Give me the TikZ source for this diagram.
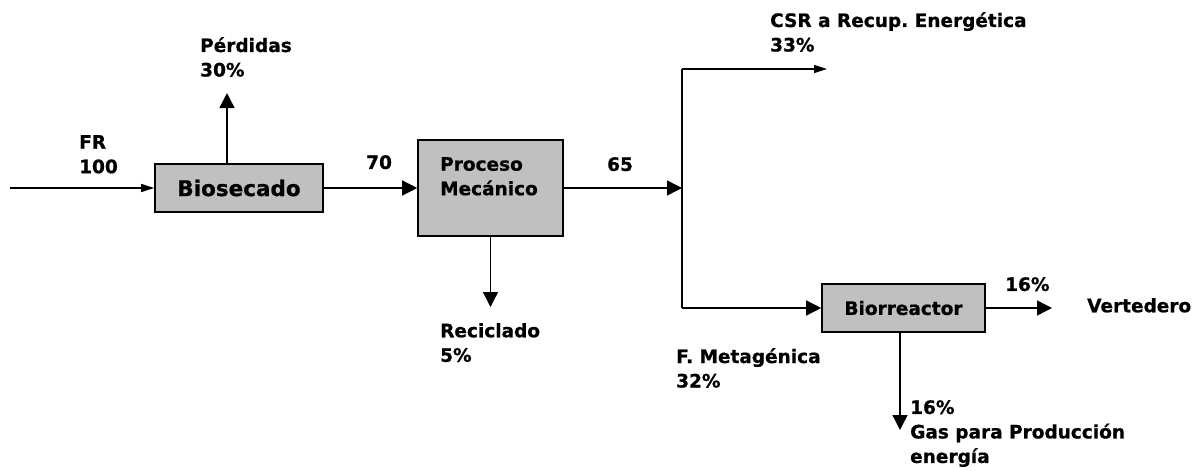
\documentclass[tikz,border=0pt]{standalone}
\usepackage{fontspec}
\setmainfont{DejaVu Sans}[BoldFeatures={FakeBold=0.8}]
\usetikzlibrary{arrows.meta,calc}
\definecolor{boxgray}{HTML}{C0C0C0}
\frenchspacing
\begin{document}
\begin{tikzpicture}[x=1pt,y=-1pt,
  lbl/.style={font=\bfseries\fontsize{18.5}{24.5}\selectfont, align=left, inner sep=0pt, anchor=north west},
  blk/.style={draw=black, fill=boxgray, line width=1.6pt, inner sep=0pt},
  flow/.style={line width=1.4pt, -{Triangle[length=15pt,width=15pt]}},
  thinflow/.style={line width=1.3pt, -{Triangle[length=13pt,width=8pt]}},
  plain/.style={line width=1.4pt},
]
\useasboundingbox (0,0) rectangle (1202,471);

% blocks
\node[blk, minimum width=168pt, minimum height=48pt, font=\bfseries\fontsize{21.5}{26}\selectfont] (bs) at (239,188) {Biosecado};
\node[blk, minimum width=145pt, minimum height=96pt] (pm) at (490.5,188) {};
\node[lbl] (pmt) at (440,157) {Proceso\\Mecánico};
\node[blk, minimum width=163pt, minimum height=48pt, font=\bfseries\fontsize{18.5}{24}\selectfont] (br) at (903.5,308) {Biorreactor};

% coordinates
\coordinate (in) at (10,188);
\coordinate (perd) at (227,93);
\coordinate (rec) at (490.5,307);
\coordinate (j) at (682,188);
\coordinate (top) at (682,69);
\coordinate (bot) at (682,308);
\coordinate (csr) at (827,69);
\coordinate (vert) at (1052,308);
\coordinate (gas) at (900,430);

% connectors
\draw[thinflow] (in) -- (bs.west);
\draw[flow] ([xshift=-12pt]bs.north) -- (perd);
\draw[flow] (bs.east) -- (pm.west);
\draw[flow] (pm.south) -- (rec);
\draw[flow] (pm.east) -- (j);
\draw[plain] (top) -- (bot);
\draw[thinflow] (top) -- (csr);
\draw[flow] (bot) -- (br.west);
\draw[flow] (br.east) -- (vert);
\draw[flow] ([xshift=-3.5pt]br.south) -- (gas);

% labels
\node[lbl] (lfr) at (79,135) {FR\\100};
\node[lbl] (lperd) at (200,37) {Pérdidas\\30\%};
\node[lbl] (l70) at (366,155) {70};
\node[lbl] (l65) at (607,157) {65};
\node[lbl] (lrec) at (440,323) {Reciclado\\5\%};
\node[lbl] (lcsr) at (770,12) {CSR a Recup. Energética\\33\%};
\node[lbl] (lmet) at (676,348) {F. Metagénica\\32\%};
\node[lbl] (l16a) at (1005,277) {16\%};
\node[lbl] (lvert) at (1087,298) {Vertedero};
\node[lbl] (lgas) at (910,400) {16\%\\Gas para Producción\\energía};
\end{tikzpicture}
\end{document}
